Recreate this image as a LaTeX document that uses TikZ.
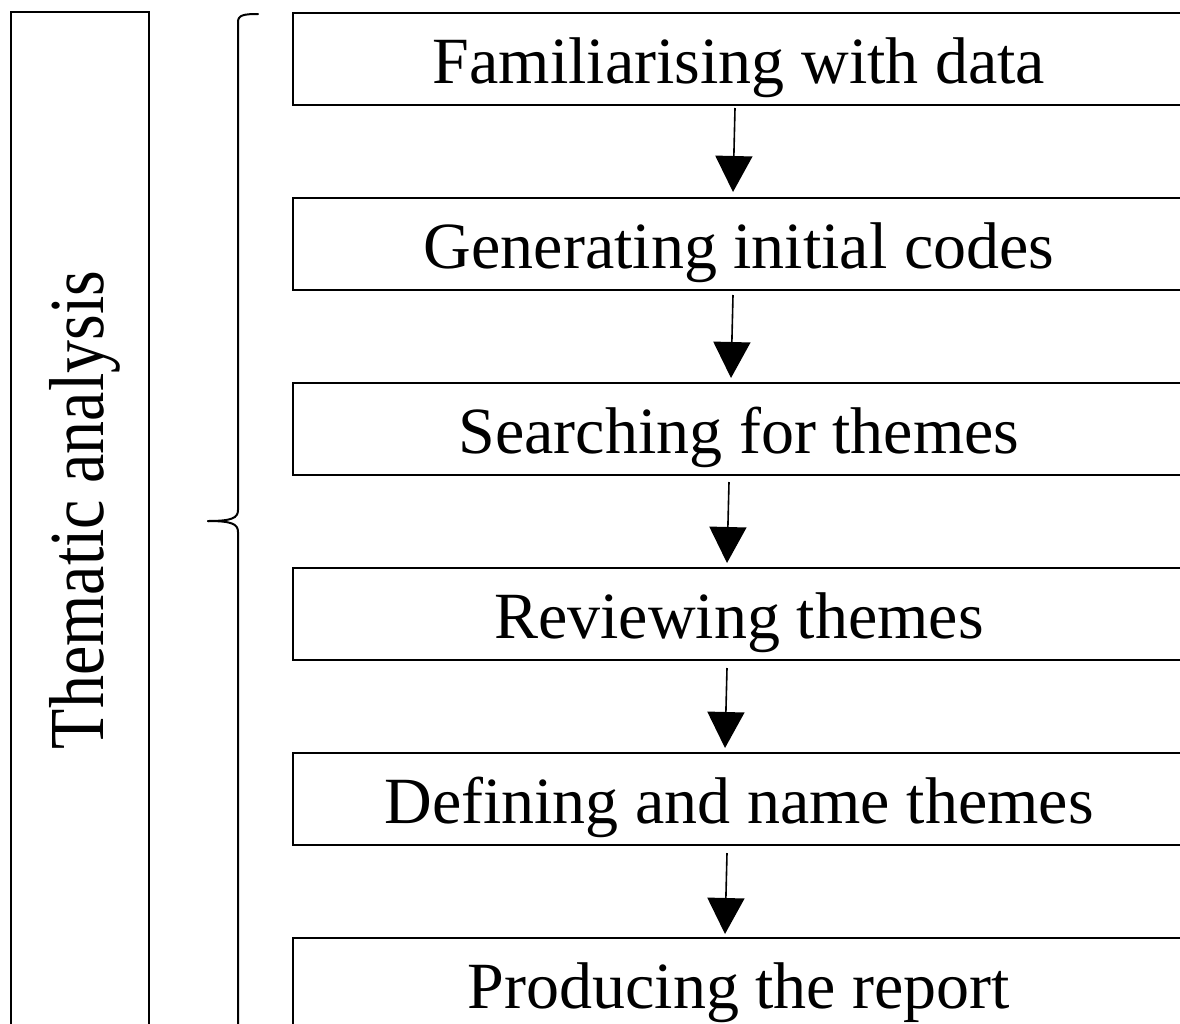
\documentclass[tikz,border=0pt]{standalone}
\usepackage{fontspec}
\setmainfont{Liberation Serif}
\usetikzlibrary{arrows.meta}
\begin{document}
\begin{tikzpicture}[x=1pt,y=-1pt,
  stepbox/.style={draw, line width=2pt, rectangle, anchor=north west, inner sep=0pt,
    minimum width=892pt, minimum height=92pt, text height=58pt, text depth=10pt,
    font=\fontsize{66}{78}\selectfont},
  arr/.style={line width=1.6pt, -{Triangle[width=37pt,length=36pt]}},
  brace/.style={line width=2pt, line cap=round}]
\useasboundingbox (0,0) rectangle (1180,1023);
\clip (0,0) rectangle (1180,1023);
% left label box
\draw[line width=2pt] (11,1060) -- (11,12) -- (149,12) -- (149,1060);
\node (lbl) [rotate=90, inner sep=0pt, anchor=base] at (103,510)
  {\fontsize{66}{78}\selectfont\scalebox{1}[1.18]{Thematic analysis}};
% brace
\draw[brace] (258,14) .. controls (244,14) and (238,15) .. (238,22)
  -- (238,510) .. controls (238,518) and (232,521) .. (208,521);
\draw[brace] (208,521) .. controls (232,521) and (238,524) .. (238,532) -- (238,1060);
% boxes
\node[stepbox] (b1) at (292,12) {Familiarising with data};
\node[stepbox] (b2) at (292,197) {Generating initial codes};
\node[stepbox] (b3) at (292,382) {Searching for themes};
\node[stepbox] (b4) at (292,567) {Reviewing themes};
\node[stepbox] (b5) at (292,752) {Defining and name themes};
\node[stepbox] (b6) at (292,937) {Producing the report};
% arrows
\draw[arr] ([shift={(-4,2)}]b1.south) -- ([shift={(-6,-5)}]b2.north);
\draw[arr] ([shift={(-6,4)}]b2.south) -- ([shift={(-8,-4)}]b3.north);
\draw[arr] ([shift={(-10,6)}]b3.south) -- ([shift={(-12,-4)}]b4.north);
\draw[arr] ([shift={(-12,7)}]b4.south) -- ([shift={(-14,-4)}]b5.north);
\draw[arr] ([shift={(-12,7)}]b5.south) -- ([shift={(-14,-3)}]b6.north);
\end{tikzpicture}
\end{document}
